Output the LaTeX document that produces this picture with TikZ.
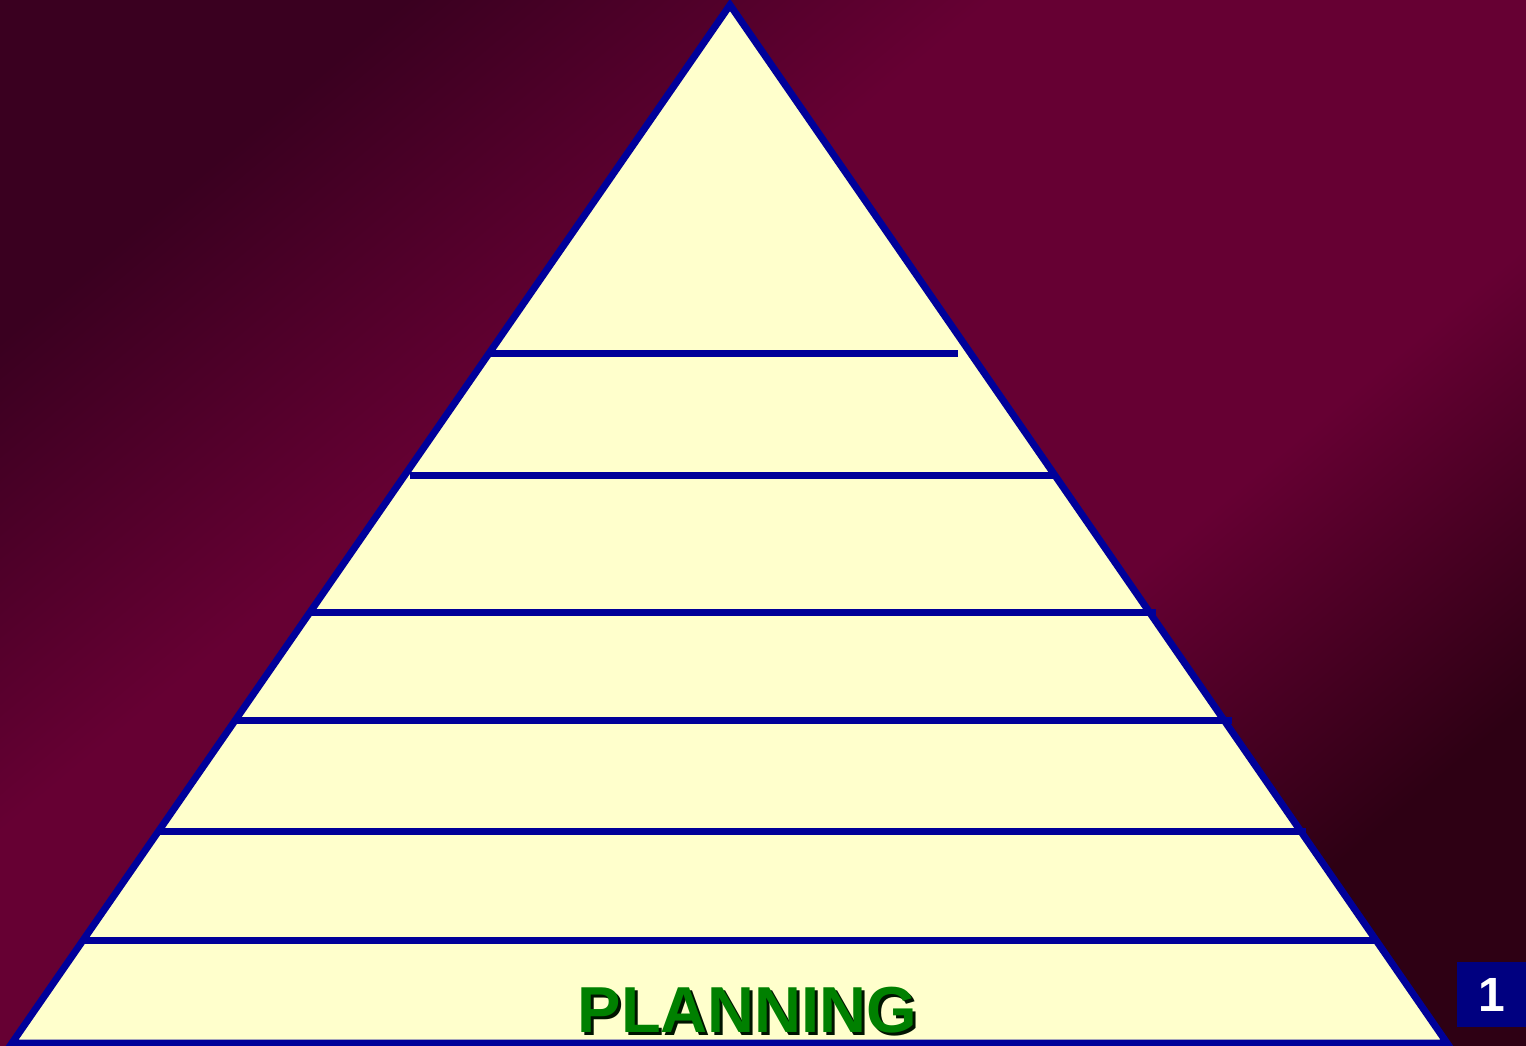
\documentclass[tikz,border=0pt]{standalone}
\usepackage{fontspec}
\setmainfont{Liberation Sans}
\definecolor{bgdark}{HTML}{3A0020}
\definecolor{bgmid}{HTML}{660033}
\definecolor{bgdark2}{HTML}{2E0014}
\definecolor{pyrfill}{HTML}{FFFFCC}
\definecolor{pyrline}{HTML}{000099}
\definecolor{labgreen}{HTML}{008000}
\definecolor{boxblue}{HTML}{000080}
\pgfdeclareverticalshading{bgshade}{100bp}{color(0bp)=(bgdark2); color(25bp)=(bgdark2); color(39bp)=(bgmid); color(60bp)=(bgmid); color(75bp)=(bgdark); color(100bp)=(bgdark)}
\tikzset{
  tier/.style={draw=pyrline, line width=7pt},
  lab/.style={font=\bfseries\fontsize{65}{66}\selectfont, inner sep=0pt, anchor=base},
}
\begin{document}
\begin{tikzpicture}[x=1pt,y=-1pt]
\useasboundingbox (0,0) rectangle (1526,1046);
\shade[shading=bgshade, shading angle=40] (0,0) rectangle (1526,1046);
\coordinate (apex) at (730,5);
\coordinate (bl) at (12,1043);
\coordinate (br) at (1447,1043);
\fill[pyrfill] (apex) -- (br) -- (bl) -- cycle;
\foreach \y/\xa/\xb [count=\i] in {353/488/958, 475/410/1057, 612/312/1156, 720/236/1232, 831/160/1306, 940/84/1378}{
  \coordinate (l\i) at (\xa,\y);
  \coordinate (r\i) at (\xb,\y);
  \draw[tier] (l\i) -- (r\i);
}
\draw[tier, line join=miter] (apex) -- (br) -- (bl) -- cycle;
\node[lab, text=black!80!green!40!black] (plansh) at (750.5,1035) {PLANNING};
\node[lab, text=labgreen] (plan) at (747.5,1032) {PLANNING};
\node[fill=boxblue, minimum width=69pt, minimum height=65pt, inner sep=0pt, text=white, font=\bfseries\fontsize{48}{50}\selectfont] (num) at (1491.5,994.5) {1};
\end{tikzpicture}
\end{document}
